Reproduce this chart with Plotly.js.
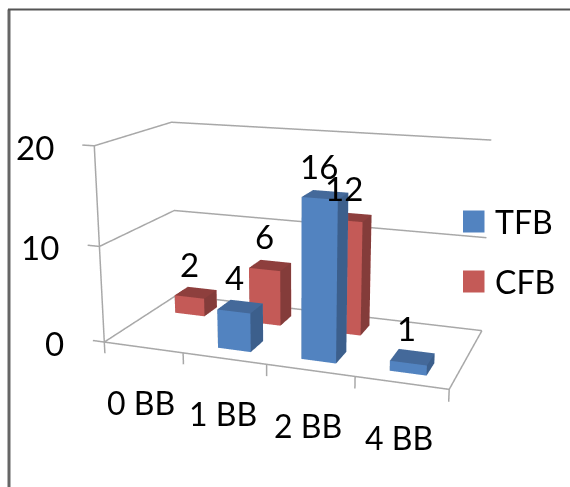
<!DOCTYPE html>
<html><head><meta charset="utf-8">
<script src="https://cdn.plot.ly/plotly-3.0.1.min.js"></script>
<style>html,body{margin:0;padding:0;width:570px;height:487px;overflow:hidden;background:#fff}
#wrap{position:absolute;left:0;top:0;width:570px;height:487px;overflow:hidden}
#chart{position:absolute;left:0;top:-186.5px;width:592px;height:856px}</style>
</head><body><div id="wrap"><div id="chart"></div></div>
<script>
const categories = ['0 BB','1 BB','2 BB','4 BB'];
const seriesNames = ['TFB','CFB'];
const tfbValues = [0,4,16,1];
const cfbValues = [2,6,12,0];
const valueTicks = [0,10,20];

const W=592,H=856,TOP=186.5;
const px=x=>x/W, py=y=>1-(y+TOP)/H;
const FONT='Lato, Carlito, sans-serif';
const LINE='#a8a8a8';

function barMesh(name,row,vals,cols){
  const X=[],Y=[],Z=[],I=[],J=[],K=[],F=[];
  vals.forEach((v,c)=>{
    if(!v) return;
    const x0=c+.3,x1=c+.7,y0=row+.3,y1=row+.7,b=X.length;
    [[x0,y0,0],[x1,y0,0],[x1,y1,0],[x0,y1,0],[x0,y0,v],[x1,y0,v],[x1,y1,v],[x0,y1,v]].forEach(p=>{X.push(p[0]);Y.push(p[1]);Z.push(p[2]);});
    [[0,1,5,cols.front],[0,5,4,cols.front],[1,2,6,cols.side],[1,6,5,cols.side],[4,5,6,cols.top],[4,6,7,cols.top],
     [0,3,7,cols.side],[0,7,4,cols.side],[3,2,6,cols.front],[3,6,7,cols.front],[0,1,2,cols.top],[0,2,3,cols.top]].forEach(t=>{I.push(b+t[0]);J.push(b+t[1]);K.push(b+t[2]);F.push(t[3]);});
  });
  return {type:'mesh3d',name,x:X,y:Y,z:Z,i:I,j:J,k:K,facecolor:F,color:cols.front,flatshading:true,showlegend:false,hoverinfo:'skip',
    lighting:{ambient:1,diffuse:0,specular:0,roughness:1,fresnel:0}};
}
const blue={front:'#5283C0',side:'#3C5F8C',top:'#44699A'};
const red={front:'#C45A57',side:'#843C3A',top:'#8E3F3D'};

// walls, floor edges and tick marks of the chart box, in data units
const n=categories.length, rows=seriesNames.length, zMax=valueTicks[valueTicks.length-1];
const TX=-.15, TZ=-1.2;
const gx=[],gy=[],gz=[];
const seg=pts=>{pts.forEach(p=>{gx.push(p[0]);gy.push(p[1]);gz.push(p[2]);});gx.push(null);gy.push(null);gz.push(null);};
valueTicks.forEach(v=>seg([[TX,0,v],[0,0,v],[0,rows,v],[n,rows,v]]));
seg([[0,0,0],[0,0,zMax]]);
seg([[0,0,0],[n,0,0],[n,rows,0]]);
for(let i=0;i<=n;i++) seg([[i,0,0],[i,0,TZ]]);
const frame={type:'scatter3d',mode:'lines',x:gx,y:gy,z:gz,line:{color:LINE,width:3},showlegend:false,hoverinfo:'skip',connectgaps:false};

const traces=[frame,barMesh(seriesNames[1],1,cfbValues,red),barMesh(seriesNames[0],0,tfbValues,blue)];

const ann=[];
valueTicks.forEach(v=>ann.push({x:0,y:0,z:v,text:String(v),showarrow:false,xanchor:'right',yanchor:'middle',xshift:-38,yshift:-1,font:{family:FONT,size:33,color:'#000'}}));
const catShift=[-2,-1,-2,-2];
categories.forEach((c,i)=>ann.push({x:i+.5,y:0,z:0,text:c,showarrow:false,xanchor:'center',yanchor:'middle',xshift:catShift[i],yshift:-55,font:{family:FONT,size:32,color:'#000'}}));
[[tfbValues,0],[cfbValues,1]].forEach(([vals,row])=>vals.forEach((v,c)=>{ if(v) ann.push({x:c+.5,y:row+.5,z:v,text:String(v),showarrow:false,xanchor:'center',yanchor:'middle',xshift:-6,yshift:29,font:{family:FONT,size:33,color:'#000'}});}));

// Ranges are padded a little past the box so its edge lines are not clipped by the scene bounds.
const xr=[-.2,n+.1], yr=[-.1,rows+.1], zr=[-1.5,zMax+.5];
const sx=1.76/n, sy=.82/rows, sz=1/zMax;   // scene units per data unit
const mid=r=>(r[0]+r[1])/2;
const cx=(n/2-mid(xr))*sx, cy=(rows/2-mid(yr))*sy, cz=(zMax/2-mid(zr))*sz;
const a=20*Math.PI/180,b=15*Math.PI/180,D=5.165;
const legendRects=[['#5283C0',210],['#C45A57',270]];
const hidden={visible:false,showspikes:false};
const layout={width:W,height:H,margin:{l:0,r:0,t:0,b:0},paper_bgcolor:'#fff',showlegend:false,
  shapes:[{type:'line',xref:'paper',yref:'paper',x0:px(9),x1:px(9),y0:py(9),y1:py(487),line:{color:'#666',width:3}},
          {type:'line',xref:'paper',yref:'paper',x0:px(8),x1:px(570),y0:py(9),y1:py(9),line:{color:'#555',width:2}},
          ...legendRects.map(([c,y])=>({type:'rect',xref:'paper',yref:'paper',x0:px(463),x1:px(484.5),y0:py(y),y1:py(y+22),fillcolor:c,line:{width:0}}))],
  annotations:seriesNames.map((s,i)=>({xref:'paper',yref:'paper',x:px(493),y:py(221+60*i),text:s,showarrow:false,xanchor:'left',yanchor:'middle',font:{family:FONT,size:32,color:'#000'}})),
  scene:{domain:{x:[0,1],y:[0,1]},aspectmode:'manual',aspectratio:{x:sx*(xr[1]-xr[0]),y:sy*(yr[1]-yr[0]),z:sz*(zr[1]-zr[0])},
    camera:{center:{x:cx,y:cy,z:cz},eye:{x:cx+D*Math.sin(a)*Math.cos(b),y:cy-D*Math.cos(a)*Math.cos(b),z:cz+D*Math.sin(b)},up:{x:0,y:0,z:1}},
    xaxis:{...hidden,range:xr},yaxis:{...hidden,range:yr},zaxis:{...hidden,range:zr},
    annotations:ann}
};
Plotly.newPlot('chart',traces,layout,{displayModeBar:false,responsive:false});
</script></body></html>
